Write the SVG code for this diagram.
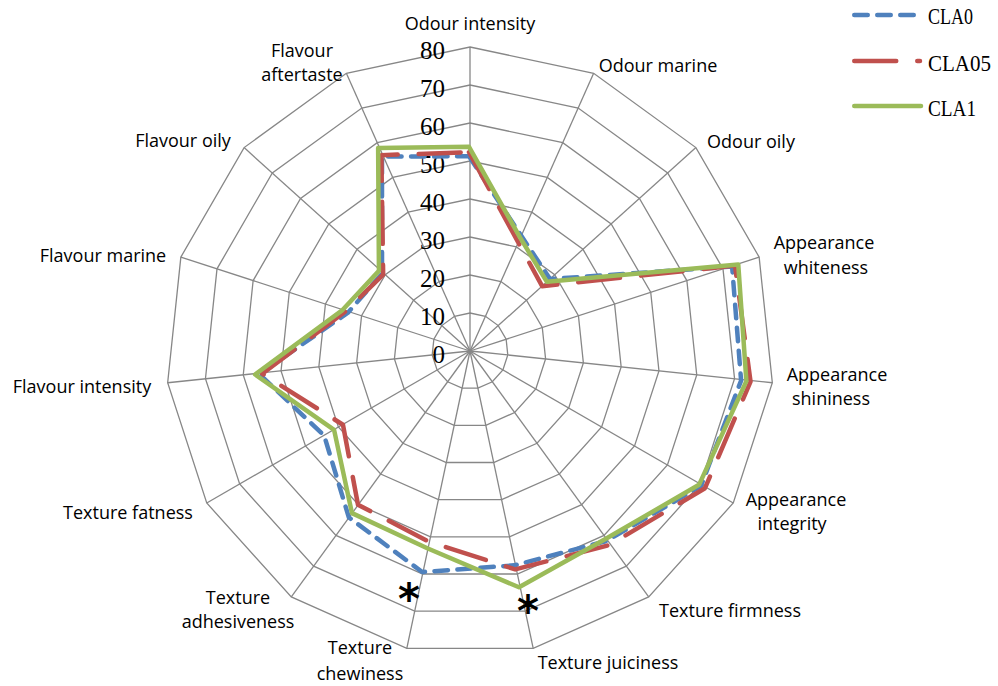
<svg xmlns="http://www.w3.org/2000/svg" width="998" height="686" viewBox="0 0 998 686">
  <style>
    .ring { fill: none; stroke: #878787; stroke-width: 1.3; stroke-linejoin: miter; }
    .spoke { stroke: #878787; stroke-width: 1.3; }
    .tick { font-family: "Liberation Serif", "DejaVu Serif", serif; font-size: 25px; fill: #000; text-anchor: end; }
    .cat { font-family: "Open Sans", "Liberation Sans", sans-serif; font-size: 18px; fill: #000; text-anchor: middle; }
    .leg { font-family: "Liberation Serif", "DejaVu Serif", serif; font-size: 23px; fill: #000; }
    .series { fill: none; stroke-width: 4.5; stroke-linejoin: round; stroke-linecap: round; }
    .cla0 { stroke: #4F81BD; stroke-dasharray: 13.5 9.5; }
    .cla05 { stroke: #C0504D; stroke-dasharray: 42 21; }
    .cla1 { stroke: #9BBB59; }
    .star { font-family: "DejaVu Sans", sans-serif; font-weight: bold; font-size: 42px; fill: #000; text-anchor: middle; }
  </style>

  <rect width="998" height="686" fill="#ffffff"/>

  <!-- radar grid: 15 axes, rings every 10 units (3.8 px per unit) -->
  <g id="grid" transform="translate(1,-1)">
    <polygon class="ring" points="469,314 484.46,317.29 497.24,326.57 505.14,340.26 506.79,355.97 501.91,371 491.34,382.74 476.90,389.17 461.10,389.17 446.66,382.74 436.09,371 431.21,355.97 432.86,340.26 440.76,326.57 453.54,317.29"/>
    <polygon class="ring" points="469,276 499.91,282.57 525.48,301.15 541.28,328.52 544.58,359.94 534.82,390 513.67,413.48 484.80,426.34 453.20,426.34 424.33,413.48 403.18,390 393.42,359.94 396.72,328.52 412.52,301.15 438.09,282.57"/>
    <polygon class="ring" points="469,238 515.37,247.86 553.71,275.72 577.43,316.77 582.37,363.91 567.72,409 536.01,444.23 492.70,463.50 445.30,463.50 401.99,444.23 370.28,409 355.63,363.91 360.57,316.77 384.29,275.72 422.63,247.86"/>
    <polygon class="ring" points="469,200 530.82,213.15 581.95,250.30 613.57,305.03 620.16,367.88 600.63,428 558.34,474.97 500.60,500.67 437.40,500.67 379.66,474.97 337.37,428 317.84,367.88 324.43,305.03 356.05,250.30 407.18,213.15"/>
    <polygon class="ring" points="469,162 546.28,178.44 610.19,224.87 649.71,293.29 657.96,371.86 633.54,447 580.68,505.71 508.50,537.84 429.50,537.84 357.32,505.71 304.46,447 280.05,371.86 288.29,293.29 327.81,224.87 391.73,178.44"/>
    <polygon class="ring" points="469,124 561.73,143.72 638.43,199.44 685.85,281.55 695.75,375.83 666.45,466 603.02,536.45 516.40,575.01 421.60,575.01 334.98,536.45 271.55,466 242.25,375.83 252.15,281.55 299.57,199.44 376.27,143.72"/>
    <polygon class="ring" points="469,86 577.19,109.01 666.67,174.02 721.99,269.81 733.54,379.80 699.36,485 625.35,567.19 524.30,612.18 413.70,612.18 312.65,567.19 238.64,485 204.46,379.80 216.01,269.81 271.33,174.02 360.82,109.01"/>
    <polygon class="ring" points="469,48 592.64,74.30 694.90,148.59 758.14,258.06 771.33,383.77 732.26,504 647.69,597.94 532.20,649.34 405.80,649.34 290.31,597.94 205.74,504 166.67,383.77 179.86,258.06 243.10,148.59 345.36,74.30"/>
    <g class="spokes">
      <line class="spoke" x1="469" y1="352" x2="469" y2="48"/>
      <line class="spoke" x1="469" y1="352" x2="592.64" y2="74.30"/>
      <line class="spoke" x1="469" y1="352" x2="694.90" y2="148.59"/>
      <line class="spoke" x1="469" y1="352" x2="758.14" y2="258.06"/>
      <line class="spoke" x1="469" y1="352" x2="771.33" y2="383.77"/>
      <line class="spoke" x1="469" y1="352" x2="732.26" y2="504"/>
      <line class="spoke" x1="469" y1="352" x2="647.69" y2="597.94"/>
      <line class="spoke" x1="469" y1="352" x2="532.20" y2="649.34"/>
      <line class="spoke" x1="469" y1="352" x2="405.80" y2="649.34"/>
      <line class="spoke" x1="469" y1="352" x2="290.31" y2="597.94"/>
      <line class="spoke" x1="469" y1="352" x2="205.74" y2="504"/>
      <line class="spoke" x1="469" y1="352" x2="166.67" y2="383.77"/>
      <line class="spoke" x1="469" y1="352" x2="179.86" y2="258.06"/>
      <line class="spoke" x1="469" y1="352" x2="243.10" y2="148.59"/>
      <line class="spoke" x1="469" y1="352" x2="345.36" y2="74.30"/>
    </g>
  </g>

  <!-- value scale -->
  <g id="scale">
    <text class="tick" x="445" y="58.5">80</text>
    <text class="tick" x="445" y="96.5">70</text>
    <text class="tick" x="445" y="134.5">60</text>
    <text class="tick" x="445" y="172.5">50</text>
    <text class="tick" x="445" y="210.5">40</text>
    <text class="tick" x="445" y="248.5">30</text>
    <text class="tick" x="445" y="286.5">20</text>
    <text class="tick" x="445" y="324.5">10</text>
    <text class="tick" x="445" y="362.5">0</text>
  </g>

  <!-- data series -->
  <g id="connectors">
    <polygon id="series-cla0" class="series cla0" points="469,156.3 520.93,235.36 550.04,279.03 732.11,266.52 741.10,380.59 701.00,485.95 606.37,541.06 514.35,565.34 422.23,572.03 348.83,517.39 324.20,435.6 259.26,374.04 347.92,312.66 382.03,273.69 381.99,156.57"/>
    <polygon id="series-cla05" class="series cla05" points="469,152.12 517.99,241.96 542.14,286.15 735.0,265.58 750.54,381.58 704.95,488.23 609.27,545.06 515.22,569.43 428.71,541.56 357.99,504.79 342.96,424.77 262.28,373.72 345.03,311.72 383.16,274.70 381.37,155.18"/>
    <polygon id="series-cla1" class="series cla1" points="469,146.8 520.0,237.45 546.94,281.83 738.26,264.52 746.39,381.15 699.03,484.81 605.03,539.22 519.01,587.27 427.29,548.25 351.96,513.09 334.08,429.9 255.10,374.48 341.78,310.67 378.92,270.89 378.13,147.89"/>
  </g>

  <!-- axis labels -->
  <g id="label-odour-intensity"><text class="cat" x="470" y="30">Odour intensity</text></g>
  <g id="label-odour-marine"><text class="cat" x="658" y="72">Odour marine</text></g>
  <g id="label-odour-oily"><text class="cat" x="751" y="148">Odour oily</text></g>
  <g id="label-appearance-whiteness"><text class="cat" x="824" y="249">Appearance</text><text class="cat" x="826" y="274">whiteness</text></g>
  <g id="label-appearance-shininess"><text class="cat" x="837" y="381">Appearance</text><text class="cat" x="831" y="405">shininess</text></g>
  <g id="label-appearance-integrity"><text class="cat" x="796" y="506">Appearance</text><text class="cat" x="792" y="530">integrity</text></g>
  <g id="label-texture-firmness"><text class="cat" x="730" y="617">Texture firmness</text></g>
  <g id="label-texture-juiciness"><text class="cat" x="608" y="669">Texture juiciness</text></g>
  <g id="label-texture-chewiness"><text class="cat" x="360" y="654">Texture</text><text class="cat" x="360" y="680">chewiness</text></g>
  <g id="label-texture-adhesiveness"><text class="cat" x="238" y="604">Texture</text><text class="cat" x="238" y="628">adhesiveness</text></g>
  <g id="label-texture-fatness"><text class="cat" x="128" y="519">Texture fatness</text></g>
  <g id="label-flavour-intensity"><text class="cat" x="82" y="393">Flavour intensity</text></g>
  <g id="label-flavour-marine"><text class="cat" x="103" y="262">Flavour marine</text></g>
  <g id="label-flavour-oily"><text class="cat" x="183" y="147">Flavour oily</text></g>
  <g id="label-flavour-aftertaste"><text class="cat" x="302" y="57">Flavour</text><text class="cat" x="302" y="81">aftertaste</text></g>

  <!-- significance marks -->
  <g id="marks">
    <text class="star" x="409" y="614">*</text>
    <text class="star" x="528" y="626">*</text>
  </g>

  <!-- legend -->
  <g id="legend">
    <g id="legend-cla0">
      <line class="series cla0" x1="854.25" y1="15" x2="914" y2="15"/>
      <text class="leg" x="928" y="24" textLength="45" lengthAdjust="spacingAndGlyphs">CLA0</text>
    </g>
    <g id="legend-cla05">
      <line class="series cla05" x1="854.25" y1="61" x2="920" y2="61"/>
      <text class="leg" x="928" y="71" textLength="63" lengthAdjust="spacingAndGlyphs">CLA05</text>
    </g>
    <g id="legend-cla1">
      <line class="series cla1" x1="854.25" y1="106" x2="921" y2="106"/>
      <text class="leg" x="928" y="116" textLength="48" lengthAdjust="spacingAndGlyphs">CLA1</text>
    </g>
  </g>
</svg>
